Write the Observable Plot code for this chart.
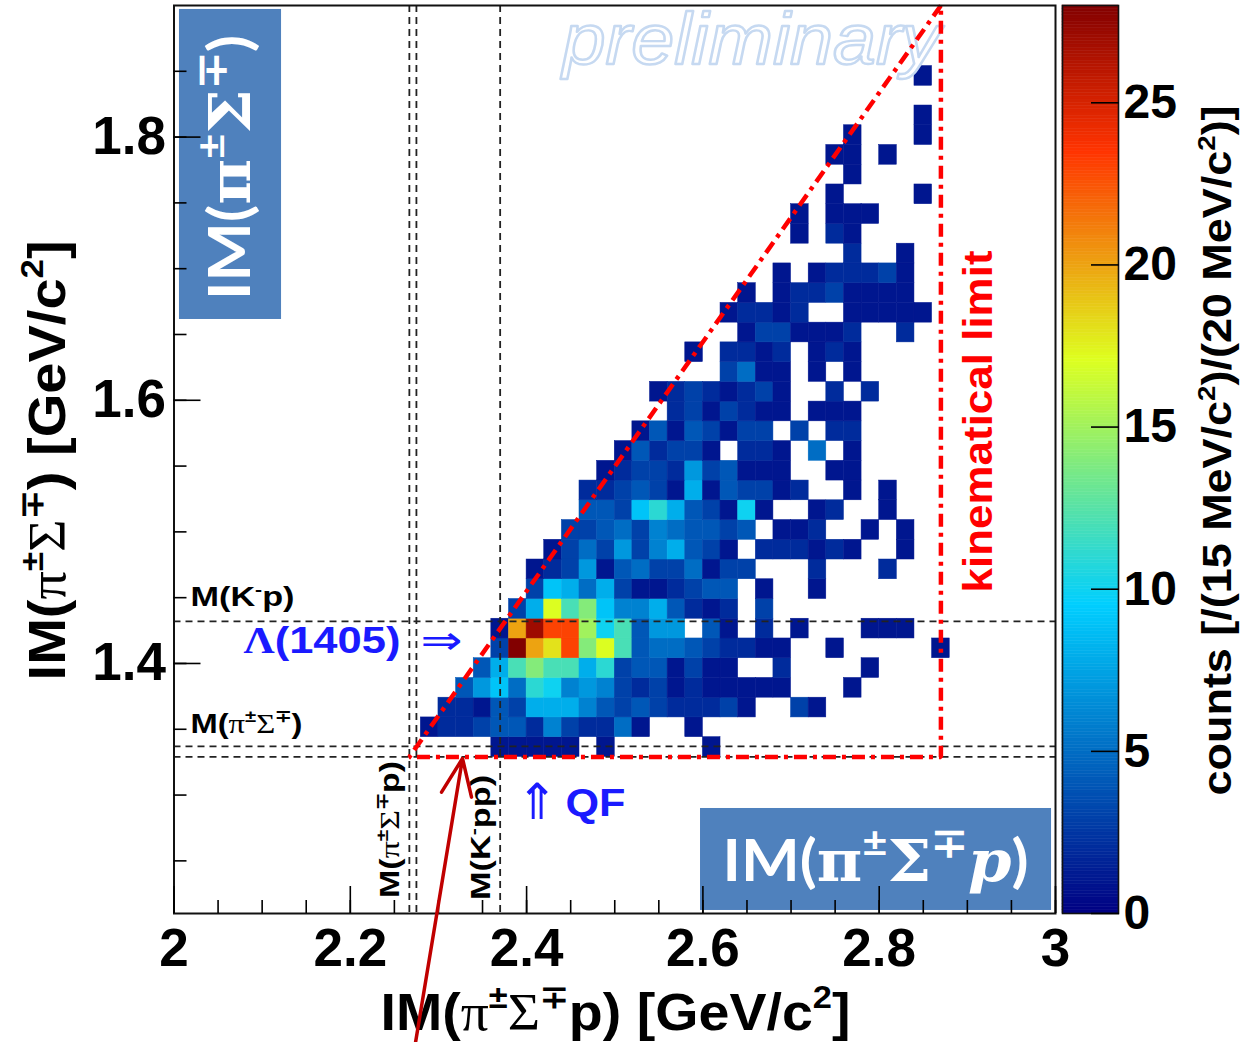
<!DOCTYPE html>
<html>
<head>
<meta charset="utf-8">
<script src="https://cdn.jsdelivr.net/npm/d3@7"></script>
<script src="https://cdn.jsdelivr.net/npm/@observablehq/plot@0.6"></script>
<style>
  html, body { margin: 0; padding: 0; background: #fff; }
  #wrap { position: relative; width: 1241px; height: 1042px; overflow: hidden; }
  #wrap svg { position: absolute; left: 0; top: 0; }
</style>
</head>
<body>
<div id="wrap"></div>
<script>
// ---------------- data ----------------
// binning of the 2D histogram (GeV/c^2)
const xBinWidth = 0.02;      // 20 MeV/c^2
const yBinWidth = 0.015;     // 15 MeV/c^2
const yFirstRowLow = 1.329;  // lower edge of the first IM(pi Sigma) row
// x lower edge of the first listed bin in each row (row 0 = lowest IM(pi Sigma))
const rowStartX = [2.36, 2.28, 2.30, 2.32, 2.34, 2.36, 2.36, 2.38, 2.40, 2.40,
                   2.42, 2.44, 2.46, 2.46, 2.48, 2.50, 2.52, 2.56, 2.54, 2.62,
                   2.58, 2.64, 2.62, 2.64, 2.68, 2.76, 2.70, 2.70, 2.74, 2.76,
                   2.74, 2.76, 2.84, 2.84, 2.84];
// counts per bin, consecutive 20 MeV columns starting at rowStartX
const rowCounts = [
  [1,1,1,1,1,0,1,0,0,0,0,0,1],
  [1,2,2,3,4,4,2,6,3,2,2,5,1,0,0,1],
  [2,2,1,4,3,8,8,8,6,4,3,4,3,2,2,2,3,1,0,0,3,1],
  [4,7,9,5,11,10,6,7,6,3,2,3,1,2,1,1,1,1,1,0,0,0,1],
  [4,8,12,14,12,12,8,11,3,4,4,1,3,1,1,0,0,2,0,0,0,0,1],
  [3,28,20,18,23,14,17,12,4,5,5,4,3,2,2,1,1,0,0,1,0,0,0,0,0,1],
  [1,20,27,23,23,15,10,12,4,7,7,0,4,1,0,2,0,1,0,0,0,1,1,1],
  [3,8,17,12,14,9,6,6,8,4,2,1,2,0,3],
  [3,9,8,5,8,3,1,1,2,3,4,4,0,1,0,0,1],
  [1,2,3,7,1,4,5,3,3,5,1,3,3,0,0,0,2,0,0,0,2],
  [1,3,5,3,7,3,6,8,4,3,1,0,2,2,2,1,2,1,0,0,1],
  [3,3,4,5,3,6,5,4,4,3,4,0,1,1,2,0,0,1,0,1],
  [4,4,3,9,11,8,4,3,1,10,1,0,0,1,2,0,0,1],
  [2,2,3,4,3,1,8,1,4,3,3,1,2,0,0,1,0,1],
  [1,2,3,3,2,7,3,4,1,1,1,0,0,1,1],
  [1,4,2,3,3,1,0,2,2,1,0,5,0,1],
  [1,4,1,4,3,1,3,3,0,3,0,2,2],
  [2,3,1,3,2,1,1,0,1,1,1],
  [1,2,3,2,1,2,3,1,0,0,2,0,2],
  [3,5,1,1,0,1,0,1],
  [1,0,2,2,1,2,0,1,2,1],
  [1,3,3,1,1,1,2,0,0,2],
  [1,2,2,1,2,0,0,1,1,1,1,1],
  [1,0,1,2,2,3,1,1,1,1],
  [1,0,1,2,2,2,3,1],
  [2,0,0,1],
  [1,0,2,1],
  [1,0,1,1,1],
  [1,0,0,0,0,1],
  [1],
  [1,1,0,1],
  [1,0,0,0,1],
  [1],
  [],
  [1]
];
const zMax = 28;

// thresholds (dashed lines)
const thresholdY = [1.432, 1.337, 1.329];        // M(K-p), M(pi+-Sigma-+)
const thresholdX = [2.267, 2.275, 2.370];        // M(pi Sigma p), M(K-pp)
// kinematical limit (red dash-dotted)
const kinLimitX = [2.870, 2.267, 2.870, 2.870];
const kinLimitY = [1.900, 1.329, 1.329, 1.900];

// axes
const xDomain = [2, 3];
const yDomain = [1.21, 1.90];
const xTicks = [2, 2.2, 2.4, 2.6, 2.8, 3];
const xTickLabels = ["2", "2.2", "2.4", "2.6", "2.8", "3"];
const yTicks = [1.4, 1.6, 1.8];
const yTickLabels = ["1.4", "1.6", "1.8"];
const xMinorTicks = d3.range(0, 21).map(i => 2 + i * 0.05);
const yMinorTicks = d3.range(0, 13).map(i => 1.25 + i * 0.05);
const cbTicks = [0, 5, 10, 15, 20, 25];
const cbTickLabels = ["0", "5", "10", "15", "20", "25"];

// texts
const xTitle = "IM(π^{±}Σ^{∓}p) [GeV/c^{2}]";
const yTitle = "IM(π^{±}Σ^{∓}) [GeV/c^{2}]";
const cbTitle = "counts [/(15 MeV/c^{2})/(20 MeV/c^{2})]";

// ---------------- palette (ROOT rainbow) ----------------
const paletteStops = [0, 0.34, 0.61, 0.84, 1];
const paletteColors = ["#000082", "#00cfff", "#deff1f", "#ff3300", "#820000"];
const palette = d3.scaleLinear().domain(paletteStops).range(paletteColors)
  .interpolate(d3.interpolateRgb).clamp(true);
const colorScale = {type: "linear", domain: [0, zMax], interpolate: t => palette(t)};

// ---------------- build cells ----------------
const cells = [];
rowCounts.forEach((counts, r) => {
  const x0 = rowStartX[r];
  counts.forEach((c, j) => {
    if (c > 0) cells.push({
      x1: +(x0 + j * xBinWidth).toFixed(4),
      x2: +(x0 + (j + 1) * xBinWidth).toFixed(4),
      y1: +(yFirstRowLow + r * yBinWidth).toFixed(4),
      y2: +(yFirstRowLow + (r + 1) * yBinWidth).toFixed(4),
      count: c
    });
  });
});
const kinLimit = kinLimitX.map((x, i) => ({x, y: kinLimitY[i]}));

// ---------------- annotation layout ----------------
const BLUE = "#1a1aff";
const BOX = "#4f81bd";
const annotations = [
  {text: "M(K^{-}p)", x: 2.0187, y: 1.4502, size: 28, length: 104, anchor: "start"},
  {text: "M(π^{±}Σ^{∓})", x: 2.0187, y: 1.3536, size: 28, length: 112, anchor: "start"},
  {text: "Λ(1405)", x: 2.0788, y: 1.4167, size: 37, length: 157, anchor: "start", fill: BLUE, greekWeight: "bold"},
  {text: "⇒", x: 2.3034, y: 1.4167, size: 40, length: 42, fill: BLUE, weight: "normal", family: "DejaVu Sans"},
  {text: "⇑", x: 2.4124, y: 1.2936, size: 50, fill: BLUE, weight: "normal", family: "DejaVu Sans"},
  {text: "QF", x: 2.4441, y: 1.2936, size: 38, length: 60, anchor: "start", fill: BLUE},
  {text: "kinematical limit", x: 2.9137, y: 1.5839, size: 40, length: 342, rotate: -90, fill: "#ff0000"},
  {text: "M(π^{±}Σ^{∓}p)", x: 2.2456, y: 1.2739, size: 28, length: 137, rotate: -90},
  {text: "M(K^{-}pp)", x: 2.3488, y: 1.2678, size: 28, length: 125, rotate: -90},
  {text: xTitle, x: 2.5008, y: 1.1341, size: 52, length: 470},
  {text: yTitle, x: 1.8576, y: 1.5543, size: 52, length: 440, rotate: -90},
  {text: "IM(π^{±}Σ^{∓})", x: 2.0652, y: 1.7769, size: 58, length: 265, rotate: -90, fill: "#fff",
   family: "Lato", greekFamily: "DejaVu Serif", greekWeight: "bold", sup: 0.7},
  {text: "IM(π^{±}Σ^{∓}~{p})", x: 2.7958, y: 1.2488, size: 58, length: 306, fill: "#fff",
   family: "Lato", greekFamily: "DejaVu Serif", greekWeight: "bold", sup: 0.7}
];
const boxes = [
  {x1: 2.0062, x2: 2.1220, y1: 1.6614, y2: 1.8970},
  {x1: 2.5973, x2: 2.9955, y1: 1.2123, y2: 1.2898}
];
const prelim = {text: "preliminary", x: 2.6551, y: 1.8734, size: 72, length: 378};
const arrowPts = {x1: 2.2740, y1: 1.1120, x2: 2.3273, y2: 1.3278};

const fontMain = "'Liberation Sans', Arial, Helvetica, sans-serif";

function textMark(a) {
  return Plot.text([a], {
    x: "x", y: "y", text: "text",
    fontSize: a.size, fontWeight: a.weight || "bold",
    fontFamily: a.family ? `'${a.family}', sans-serif` : fontMain,
    fill: a.fill || "#000", textAnchor: a.anchor || "middle",
    rotate: a.rotate || 0
  });
}

// ---------------- main plot ----------------
const main = Plot.plot({
  width: 1241, height: 1042,
  marginLeft: 173.5, marginRight: 186, marginTop: 5, marginBottom: 129,
  x: {domain: xDomain},
  y: {domain: yDomain},
  color: colorScale,
  style: {fontFamily: fontMain, background: "#fff", overflow: "visible"},
  marks: [
    Plot.rect(boxes, {x1: "x1", x2: "x2", y1: "y1", y2: "y2", fill: BOX}),
    Plot.rect(cells, {x1: "x1", x2: "x2", y1: "y1", y2: "y2", fill: "count", stroke: "count", strokeWidth: 0.5}),
    Plot.text([prelim], {x: "x", y: "y", text: "text", fontSize: prelim.size, fontStyle: "italic",
      fontWeight: "normal", fill: "#fff", stroke: "#c6d9f1", strokeWidth: 2.4, paintOrder: "fill"}),
    Plot.ruleY(thresholdY, {stroke: "#222", strokeWidth: 1.8, strokeDasharray: "7,5"}),
    Plot.ruleX(thresholdX, {stroke: "#222", strokeWidth: 1.8, strokeDasharray: "7,5"}),
    Plot.line(kinLimit, {x: "x", y: "y", stroke: "#ff0000", strokeWidth: 4.5,
      strokeDasharray: "13,6,4,6", strokeLinecap: "butt", strokeLinejoin: "miter"}),
    Plot.frame({stroke: "#111", strokeWidth: 2}),
    Plot.axisX({ticks: xMinorTicks, tickSize: -13, tickFormat: () => "", strokeWidth: 1.6, label: null}),
    Plot.axisX({ticks: xTicks, tickSize: -27, tickFormat: () => "", strokeWidth: 1.6, label: null}),
    Plot.axisX({ticks: xTicks, tickSize: 0, tickPadding: 15, tickFormat: d => xTickLabels[xTicks.indexOf(d)],
      fontSize: 53, fontWeight: "bold", label: null}),
    Plot.axisY({ticks: yMinorTicks, tickSize: -13, tickFormat: () => "", strokeWidth: 1.6, label: null}),
    Plot.axisY({ticks: yTicks, tickSize: -27, tickFormat: () => "", strokeWidth: 1.6, label: null}),
    Plot.axisY({ticks: yTicks, tickSize: 0, tickPadding: 8, tickFormat: d => yTickLabels[yTicks.indexOf(d)],
      fontSize: 53, fontWeight: "bold", label: null}),
    ...annotations.map(textMark),
    Plot.arrow([arrowPts], {x1: "x1", y1: "y1", x2: "x2", y2: "y2", stroke: "#c00000",
      strokeWidth: 3.5, headLength: 17, headAngle: 45})
  ]
});

// ---------------- colour bar ----------------
const cbLevels = d3.range(0, zMax, 0.1);
const cbTitleSpec = {text: cbTitle, x: 2.786, y: 14.28, size: 40, length: 690, rotate: -90};
const colorbar = Plot.plot({
  width: 1241, height: 1042,
  marginLeft: 1062, marginRight: 123, marginTop: 5, marginBottom: 129,
  x: {domain: [0, 1], axis: null},
  y: {domain: [0, zMax]},
  color: colorScale,
  style: {fontFamily: fontMain, background: "transparent", overflow: "visible"},
  marks: [
    Plot.rect(cbLevels, {x1: 0, x2: 1, y1: d => d, y2: d => Math.min(zMax, d + 0.1),
      fill: d => d + 0.05, stroke: d => d + 0.05, strokeWidth: 0.5}),
    Plot.frame({stroke: "#111", strokeWidth: 1.6}),
    Plot.axisY({anchor: "right", ticks: cbTicks, tickSize: -28, tickFormat: () => "", strokeWidth: 1.6, label: null}),
    Plot.axisY({anchor: "right", ticks: cbTicks, tickSize: 0, tickPadding: 5,
      tickFormat: d => cbTickLabels[cbTicks.indexOf(d)], fontSize: 48, fontWeight: "bold", label: null}),
    textMark(cbTitleSpec)
  ]
});

const wrap = document.getElementById("wrap");
wrap.appendChild(main);
wrap.appendChild(colorbar);

// ---------------- rich text (superscripts, greek letters, fitted widths) ----------------
const NS = "http://www.w3.org/2000/svg";
const specs = new Map([...annotations, prelim, cbTitleSpec].map(a => [a.text, a]));
function richText(el, spec) {
  const raw = el.textContent;
  const fs = spec.size;
  const supScale = spec.sup || 0.62;
  const up = fs * 0.42;
  while (el.firstChild) el.removeChild(el.firstChild);
  const re = /\^\{([^}]*)\}|~\{([^}]*)\}|([πΣΛ])|([^\^~πΣΛ]+)/g;
  let m, pending = 0;
  const add = (txt, attrs, dy) => {
    const t = document.createElementNS(NS, "tspan");
    t.textContent = txt;
    for (const k in attrs) t.setAttribute(k, attrs[k]);
    const d = dy + pending;
    if (d) t.setAttribute("dy", d.toFixed(2));
    pending = 0;
    el.appendChild(t);
  };
  const greekFam = `'${spec.greekFamily || "Liberation Serif"}', serif`;
  while ((m = re.exec(raw))) {
    if (m[1] !== undefined) {
      add(m[1], {"font-size": (fs * supScale).toFixed(1)}, -up);
      pending = up;
    } else if (m[2] !== undefined) {
      add(m[2], {"font-family": greekFam, "font-style": "italic", "font-weight": spec.greekWeight || "normal"}, 0);
    } else if (m[3] !== undefined) {
      add(m[3], {"font-family": greekFam, "font-weight": spec.greekWeight || "normal"}, 0);
    } else {
      add(m[4], {}, 0);
    }
  }
  if (spec.length) {
    el.setAttribute("textLength", spec.length);
    el.setAttribute("lengthAdjust", "spacingAndGlyphs");
  }
}
for (const svg of [main, colorbar]) {
  svg.querySelectorAll("text").forEach(el => {
    const spec = specs.get(el.textContent);
    if (spec) richText(el, spec);
  });
}
</script>
</body>
</html>
